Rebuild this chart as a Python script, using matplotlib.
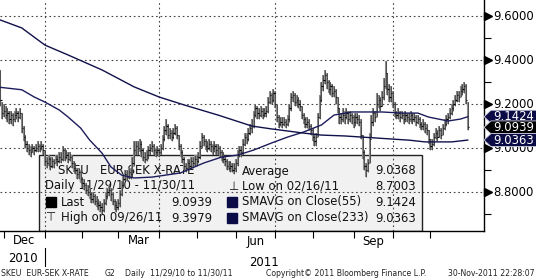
import numpy as np
import pandas as pd
import matplotlib
matplotlib.use("Agg")
import matplotlib.pyplot as plt
from matplotlib.patches import Rectangle, Polygon
from matplotlib.transforms import blended_transform_factory
#----------------------------------------------------------------------------------------

dates = pd.bdate_range("2010-11-29", "2011-11-30")

close = [9.22, 9.16, 9.17, 9.15, 9.16, 9.13, 9.15, 9.13, 9.15, 9.16,
         9.14, 9.16, 9.09, 9.05, 9.02, 9.00, 8.99, 8.98, 9.00, 8.99,
         9.00, 9.01, 9.00, 9.01, 8.99, 8.94, 8.93, 8.95, 8.92, 8.94,
         8.93, 8.95, 8.94, 8.96, 8.95, 8.99, 8.96, 8.97, 8.95, 8.96,
         8.93, 8.91, 8.90, 8.88, 8.89, 8.86, 8.84, 8.83, 8.81, 8.80,
         8.79, 8.77, 8.78, 8.76, 8.75, 8.74, 8.73, 8.72, 8.75, 8.78,
         8.80, 8.81, 8.79, 8.76, 8.74, 8.73, 8.75, 8.79, 8.83, 8.86,
         8.88, 8.87, 8.89, 8.88, 8.93, 8.99, 9.01, 9.00, 9.02, 8.99,
         8.96, 8.95, 8.97, 8.99, 9.00, 9.01, 8.99, 8.98, 8.99, 8.98,
         9.00, 9.04, 9.08, 9.10, 9.06, 9.07, 9.05, 9.07, 9.09, 9.06,
         9.01, 8.98, 8.95, 8.92, 8.91, 8.93, 8.92, 8.94, 8.93, 8.95,
         8.94, 8.96, 9.01, 9.05, 9.03, 9.01, 9.00, 9.02, 9.01, 9.00,
         9.01, 8.99, 9.00, 8.98, 8.96, 8.95, 8.94, 8.92, 8.91, 8.92,
         8.90, 8.91, 8.93, 8.97, 8.99, 8.98, 9.02, 9.05, 9.04, 9.07,
         9.09, 9.10, 9.15, 9.18, 9.16, 9.15, 9.17, 9.15, 9.16, 9.17,
         9.21, 9.24, 9.22, 9.25, 9.20, 9.14, 9.11, 9.12, 9.11, 9.12,
         9.11, 9.13, 9.18, 9.23, 9.24, 9.21, 9.22, 9.20, 9.19, 9.15,
         9.13, 9.11, 9.12, 9.10, 9.08, 9.05, 9.03, 9.05, 9.14, 9.22,
         9.28, 9.31, 9.33, 9.30, 9.27, 9.28, 9.25, 9.26, 9.23, 9.18,
         9.14, 9.13, 9.15, 9.14, 9.16, 9.13, 9.15, 9.14, 9.12, 9.14,
         9.13, 9.12, 9.06, 8.98, 8.92, 8.90, 8.93, 9.04, 9.12, 9.16,
         9.14, 9.20, 9.22, 9.19, 9.23, 9.28, 9.34, 9.27, 9.23, 9.25,
         9.20, 9.16, 9.15, 9.16, 9.14, 9.15, 9.13, 9.15, 9.14, 9.13,
         9.15, 9.13, 9.14, 9.12, 9.13, 9.11, 9.10, 9.11, 9.09, 9.08,
         9.04, 9.01, 9.02, 9.05, 9.07, 9.05, 9.08, 9.06, 9.09, 9.11,
         9.13, 9.14, 9.16, 9.18, 9.20, 9.22, 9.24, 9.23, 9.26, 9.27,
         9.28, 9.22, 9.0939]

high = [9.355, 9.21, 9.20, 9.19, 9.18, 9.17, 9.17, 9.16, 9.17, 9.18,
        9.17, 9.18, 9.16, 9.10, 9.06, 9.03, 9.02, 9.01, 9.02, 9.01,
        9.02, 9.03, 9.02, 9.03, 9.02, 8.99, 8.96, 8.97, 8.96, 8.96,
        8.95, 8.97, 8.97, 8.98, 8.98, 9.01, 9.00, 8.99, 8.98, 8.98,
        8.97, 8.94, 8.93, 8.91, 8.91, 8.90, 8.87, 8.86, 8.84, 8.83,
        8.82, 8.80, 8.80, 8.79, 8.78, 8.77, 8.76, 8.75, 8.77, 8.80,
        8.82, 8.83, 8.82, 8.80, 8.77, 8.76, 8.77, 8.81, 8.85, 8.88,
        8.90, 8.90, 8.91, 8.91, 8.96, 9.03, 9.03, 9.03, 9.04, 9.03,
        9.00, 8.98, 8.99, 9.01, 9.02, 9.03, 9.02, 9.00, 9.01, 9.00,
        9.02, 9.06, 9.10, 9.13, 9.11, 9.09, 9.08, 9.09, 9.11, 9.10,
        9.06, 9.02, 8.99, 8.96, 8.93, 8.95, 8.95, 8.96, 8.96, 8.97,
        8.97, 8.98, 9.03, 9.07, 9.06, 9.04, 9.03, 9.04, 9.03, 9.02,
        9.03, 9.02, 9.02, 9.01, 8.99, 8.98, 8.96, 8.95, 8.94, 8.94,
        8.93, 8.93, 8.95, 8.99, 9.01, 9.01, 9.04, 9.07, 9.07, 9.09,
        9.11, 9.13, 9.17, 9.20, 9.19, 9.18, 9.19, 9.18, 9.18, 9.19,
        9.23, 9.26, 9.25, 9.27, 9.26, 9.20, 9.15, 9.14, 9.14, 9.14,
        9.13, 9.15, 9.20, 9.25, 9.26, 9.25, 9.24, 9.23, 9.22, 9.19,
        9.16, 9.14, 9.14, 9.13, 9.11, 9.09, 9.06, 9.07, 9.16, 9.24,
        9.30, 9.33, 9.355, 9.34, 9.31, 9.30, 9.29, 9.28, 9.27, 9.23,
        9.18, 9.16, 9.18, 9.17, 9.18, 9.17, 9.17, 9.16, 9.15, 9.16,
        9.16, 9.15, 9.13, 9.06, 8.99, 8.93, 8.95, 9.07, 9.15, 9.18,
        9.17, 9.25, 9.24, 9.23, 9.26, 9.32, 9.3979, 9.34, 9.29, 9.28,
        9.26, 9.21, 9.17, 9.18, 9.17, 9.17, 9.16, 9.17, 9.16, 9.16,
        9.17, 9.16, 9.16, 9.15, 9.15, 9.14, 9.12, 9.13, 9.12, 9.11,
        9.08, 9.04, 9.04, 9.07, 9.09, 9.08, 9.10, 9.09, 9.11, 9.13,
        9.15, 9.16, 9.18, 9.20, 9.22, 9.24, 9.26, 9.26, 9.28, 9.29,
        9.30, 9.29, 9.21]

low = [9.19, 9.13, 9.14, 9.13, 9.12, 9.11, 9.11, 9.10, 9.12, 9.13,
       9.12, 9.13, 9.07, 9.03, 9.00, 8.98, 8.97, 8.96, 8.98, 8.97,
       8.98, 8.98, 8.98, 8.99, 8.97, 8.92, 8.91, 8.92, 8.90, 8.91,
       8.91, 8.93, 8.92, 8.93, 8.93, 8.94, 8.94, 8.95, 8.93, 8.94,
       8.91, 8.89, 8.88, 8.86, 8.86, 8.84, 8.82, 8.81, 8.79, 8.78,
       8.77, 8.75, 8.75, 8.74, 8.73, 8.72, 8.71, 8.7003, 8.71, 8.74,
       8.77, 8.78, 8.76, 8.74, 8.72, 8.71, 8.72, 8.73, 8.78, 8.82,
       8.85, 8.85, 8.86, 8.86, 8.87, 8.92, 8.97, 8.97, 8.98, 8.96,
       8.94, 8.93, 8.94, 8.95, 8.97, 8.98, 8.97, 8.96, 8.97, 8.96,
       8.97, 8.99, 9.03, 9.06, 9.04, 9.04, 9.03, 9.04, 9.06, 9.04,
       8.99, 8.96, 8.93, 8.90, 8.89, 8.90, 8.90, 8.91, 8.91, 8.92,
       8.92, 8.93, 8.95, 9.00, 9.01, 8.99, 8.98, 8.99, 8.98, 8.97,
       8.98, 8.97, 8.97, 8.96, 8.94, 8.93, 8.92, 8.90, 8.90, 8.89,
       8.89, 8.88, 8.89, 8.92, 8.96, 8.96, 8.97, 9.01, 9.02, 9.03,
       9.06, 9.07, 9.09, 9.14, 9.13, 9.13, 9.14, 9.13, 9.14, 9.14,
       9.16, 9.20, 9.20, 9.21, 9.18, 9.12, 9.09, 9.10, 9.09, 9.10,
       9.09, 9.10, 9.12, 9.17, 9.21, 9.19, 9.19, 9.18, 9.17, 9.13,
       9.11, 9.09, 9.09, 9.08, 9.06, 9.03, 9.01, 9.01, 9.05, 9.13,
       9.21, 9.26, 9.29, 9.27, 9.25, 9.24, 9.23, 9.23, 9.20, 9.16,
       9.11, 9.11, 9.12, 9.11, 9.13, 9.11, 9.12, 9.11, 9.09, 9.10,
       9.11, 9.10, 9.04, 8.95, 8.90, 8.87, 8.89, 8.93, 9.05, 9.10,
       9.12, 9.14, 9.18, 9.17, 9.19, 9.22, 9.27, 9.24, 9.21, 9.21,
       9.18, 9.14, 9.13, 9.13, 9.12, 9.13, 9.11, 9.12, 9.12, 9.11,
       9.12, 9.11, 9.12, 9.10, 9.11, 9.09, 9.08, 9.08, 9.07, 9.06,
       9.02, 8.99, 8.99, 9.01, 9.04, 9.03, 9.05, 9.04, 9.06, 9.08,
       9.10, 9.11, 9.13, 9.15, 9.17, 9.19, 9.21, 9.21, 9.23, 9.24,
       9.25, 9.20, 9.08]

# moving averages at a few bar positions
sma55_idx = [0, 12, 19, 25, 33, 38, 45, 50, 57, 62, 68, 75, 85, 101, 114, 124, 133,
             142, 152, 161, 170, 180, 187, 197, 214, 225, 234, 240, 251, 258, 262]
sma55_val = [9.276, 9.265, 9.232, 9.209, 9.173, 9.141, 9.091, 9.037, 8.977, 8.914,
             8.877, 8.864, 8.868, 8.887, 8.932, 8.959, 8.968, 8.991, 9.023, 9.050,
             9.073, 9.105, 9.150, 9.164, 9.164, 9.159, 9.159, 9.141, 9.123, 9.132, 9.1424]
sma233_idx = [0, 12, 25, 38, 57, 75, 89, 103, 122, 141, 152, 170, 180, 193, 210,
              229, 238, 253, 262]
sma233_val = [9.582, 9.546, 9.468, 9.423, 9.355, 9.278, 9.232, 9.196, 9.150, 9.100,
              9.087, 9.068, 9.059, 9.055, 9.046, 9.036, 9.028, 9.028, 9.0363]

y_major = [9.6, 9.4, 9.2, 9.0, 8.8]
y_minor = [9.5, 9.3, 9.1, 8.9, 8.7]
month_names = [(2010, 12, "Dec"), (2011, 3, "Mar"), (2011, 6, "Jun"), (2011, 9, "Sep")]

last_val, avg_val, low_val, high_val = 9.0939, 9.0368, 8.7003, 9.3979
sma55_last, sma233_last = 9.1424, 9.0363

NAVY = "#0b0b45"
W, H = 536, 280
AX_W, AX_H = 484, 231

#----------------------------------------------------------------------------------------
fig = plt.figure(figsize=(W / 100, H / 100), dpi=100)
ax = fig.add_axes([0, (H - AX_H) / H, AX_W / W, AX_H / H])
ax.set_xlim(-0.2, -0.2 + AX_W / 1.784)
ax.set_ylim(8.623, 9.673)

idx = np.arange(len(dates))
month_start = [i for i in idx[1:] if dates[i].month != dates[i - 1].month]
quarter_start = [i for i in month_start if dates[i].month in (1, 4, 7, 10)]
first_2011 = [i for i in idx if dates[i].year == 2011][0]

# grid
for v in y_major:
    ax.axhline(v, color="#444444", lw=0.8, ls=(0, (1.5, 2.5)), zorder=2)
for q in quarter_start:
    ax.axvline(q, color="#444444", lw=0.8, ls=(0, (1.5, 2.5)), zorder=2)


def pxa(x, y):
    return x / AX_W, (AX_H - y) / AX_H


# legend box (under the bars)
x0, y0 = pxa(39, 231)
x1, y1 = pxa(422, 155)
ax.add_patch(Rectangle((x0, y0), x1 - x0, y1 - y0, transform=ax.transAxes,
                       facecolor="#f1f1f1", edgecolor="#222222", lw=1, zorder=1))

fs = 8.4
def ltext(x, y, s, ha="left"):
    ax.text(*pxa(x, y), s, transform=ax.transAxes, ha=ha, va="center",
            fontsize=fs, color="#111111", zorder=1.5)

def lsquare(x, y, c):
    a, b = pxa(x, y + 5)
    ax.add_patch(Rectangle((a, b), 10 / AX_W, 10 / AX_H, transform=ax.transAxes,
                           facecolor=c, edgecolor=c, zorder=1.5))

ltext(58, 171, "SKEU   EUR-SEK X-RATE")
ltext(45, 186, "Daily 11/29/10 - 11/30/11")
lsquare(46, 202, "black")
ltext(61, 202, "Last")
ltext(212, 202, f"{last_val:.4f}", ha="right")
ltext(46, 218, "\u22a4")
ltext(61, 218, "High on 09/26/11")
ltext(212, 218, f"{high_val:.4f}", ha="right")
ltext(242, 171, "Average")
ltext(416, 171, f"{avg_val:.4f}", ha="right")
ltext(229, 186, "\u22a5")
ltext(242, 186, "Low on 02/16/11")
ltext(416, 186, f"{low_val:.4f}", ha="right")
lsquare(227, 202, NAVY)
ltext(242, 202, "SMAVG on Close(55)")
ltext(416, 202, f"{sma55_last:.4f}", ha="right")
lsquare(227, 218, NAVY)
ltext(242, 218, "SMAVG on Close(233)")
ltext(416, 218, f"{sma233_last:.4f}", ha="right")

# price bars
ax.vlines(idx, low, high, color="#8c8c8c", lw=1.5, zorder=3)
ax.vlines(idx, low, high, color="#222222", lw=0.4, zorder=3.1)
ax.hlines(close, idx, idx + 0.7, color="black", lw=0.8, zorder=3.2)

# moving averages
ax.plot(sma55_idx, sma55_val, color="#1c1c5c", lw=1.0, zorder=3.3)
ax.plot(sma233_idx, sma233_val, color="#10104a", lw=1.0, zorder=3.3)

# axes frame
for s in ("left", "top"):
    ax.spines[s].set_visible(False)
for s in ("right", "bottom"):
    ax.spines[s].set_color("black")
    ax.spines[s].set_linewidth(1.0)
ax.set_xticks(month_start)
ax.tick_params(axis="x", length=5, width=0.8, direction="out", labelbottom=False)
ax.yaxis.tick_right()
ax.set_yticks(y_major)
ax.set_yticks(y_minor, minor=True)
ax.tick_params(axis="y", which="major", length=0, labelright=False)
ax.tick_params(axis="y", which="minor", length=5, width=0.8, direction="out")

bt = blended_transform_factory(ax.transAxes, ax.transData)
for v in y_major:
    ax.plot([487.5 / AX_W], [v], marker=">", ms=5.5, color="black",
            transform=bt, clip_on=False, zorder=5)
    ax.text(493 / AX_W, v, f"{v:.4f}", transform=bt, ha="left", va="center",
            fontsize=fs, color="black", clip_on=False, zorder=5)

# value tags on the right
tag_h = 13 / 220
def tag(v, c):
    xa, xb, xc = 1.0, 491 / AX_W, 540 / AX_W
    pts = [(xa, v), (xb, v + tag_h / 2), (xc, v + tag_h / 2), (xc, v - tag_h / 2),
           (xb, v - tag_h / 2)]
    ax.add_patch(Polygon(pts, closed=True, transform=bt, facecolor=c,
                         edgecolor="#cfcfe0", lw=0.6, clip_on=False, zorder=6))
    ax.text(493 / AX_W, v, f"{v:.4f}", transform=bt, ha="left", va="center",
            fontsize=fs, color="white", clip_on=False, zorder=6.1)

tag(sma55_last, NAVY)
tag(last_val, "black")
tag(sma233_last, NAVY)

# month / year labels
bx = blended_transform_factory(ax.transData, ax.transAxes)
for yr, mo, name in month_names:
    pos = [i for i in idx if dates[i].year == yr and dates[i].month == mo]
    ax.text((pos[0] + pos[-1] + 1) / 2, pxa(0, 241)[1], name, transform=bx,
            ha="center", va="center", fontsize=fs, clip_on=False)
ax.text(first_2011 / 2, pxa(0, 258)[1], "2010", transform=bx, ha="center",
        va="center", fontsize=fs, clip_on=False)
ax.text((first_2011 + ax.get_xlim()[1]) / 2, pxa(0, 262)[1], "2011", transform=bx,
        ha="center", va="center", fontsize=fs, clip_on=False)
ax.plot([first_2011, first_2011], [pxa(0, 248)[1], pxa(0, 266)[1]], color="black",
        lw=0.8, transform=bx, clip_on=False)

# footer
fy = (H - 274) / H
ffs = 5.6
fig.text(1 / W, fy, "SKEU  EUR-SEK X-RATE", fontsize=ffs, va="center", color="#222222")
fig.text(105 / W, fy, "G2", fontsize=ffs, va="center", color="#222222")
fig.text(125 / W, fy, "Daily  11/29/10 to 11/30/11", fontsize=ffs, va="center", color="#222222")
fig.text(426 / W, fy, "Copyright\u00a9 2011 Bloomberg Finance L.P.", fontsize=ffs,
         va="center", ha="right", color="#222222")
fig.text(535 / W, fy, "30-Nov-2011 22:28:07", fontsize=ffs, va="center", ha="right",
         color="#222222")

fig.savefig("out.png", dpi=100)
